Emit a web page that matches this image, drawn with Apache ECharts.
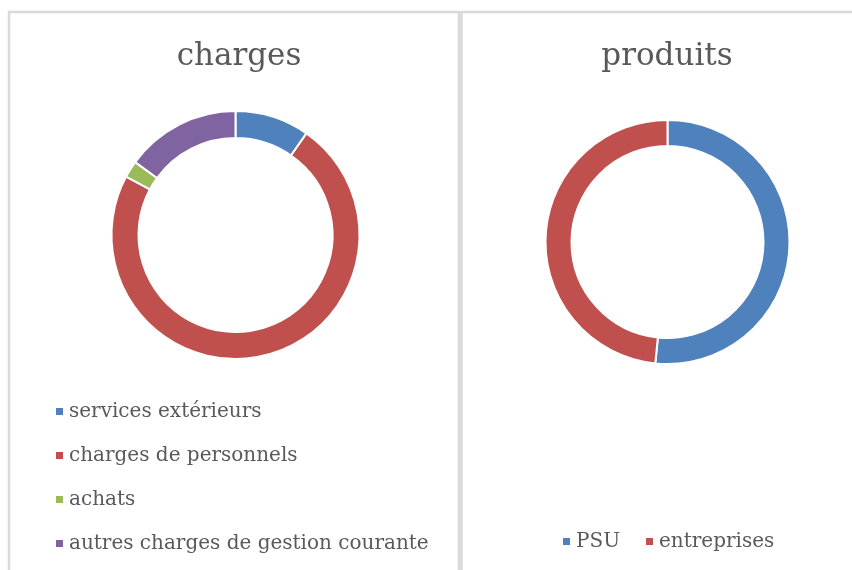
<!DOCTYPE html>
<html>
<head>
<meta charset="utf-8">
<script src="https://cdn.jsdelivr.net/npm/echarts@6/dist/echarts.min.js"></script>
<style>
html, body { margin: 0; padding: 0; background: #fff; }
#main { width: 852px; height: 570px; }
</style>
</head>
<body>
<div id="main"></div>
<script>
// charges (left donut)
var chargeNames = ['services extérieurs', 'charges de personnels', 'achats', 'autres charges de gestion courante'];
var chargeValues = [9.7, 73.1, 2.2, 15.0];
// produits (right donut)
var produitNames = ['PSU', 'entreprises'];
var produitValues = [51.6, 48.4];

var colors = ['#4F81BD', '#C0504D', '#9BBB59', '#8064A2'];
var font = 'DejaVu Serif';
var grey = '#595959';

var myChart = echarts.init(document.getElementById('main'));

function toData(names, values) {
    var out = [];
    for (var i = 0; i < names.length; i++) {
        out.push({ name: names[i], value: values[i] });
    }
    return out;
}

var option = {
    color: colors,
    animation: false,
    graphic: [
        { type: 'rect', shape: { x: 9, y: 12, width: 450, height: 620 },
          style: { fill: 'none', stroke: '#d9d9d9', lineWidth: 2.5 } },
        { type: 'rect', shape: { x: 461.5, y: 12, width: 450, height: 620 },
          style: { fill: 'none', stroke: '#d9d9d9', lineWidth: 2.5 } }
    ],
    title: [
        { text: 'charges', left: 234, top: 36, textAlign: 'center',
          textStyle: { fontFamily: font, fontSize: 31, fontWeight: 'normal', color: grey } },
        { text: 'produits', left: 662, top: 36, textAlign: 'center',
          textStyle: { fontFamily: font, fontSize: 31, fontWeight: 'normal', color: grey } }
    ],
    legend: [
        {
            data: chargeNames,
            orient: 'vertical',
            left: 54,
            top: 401,
            padding: 0,
            icon: 'rect',
            itemWidth: 9,
            itemHeight: 9,
            itemGap: 23,
            selectedMode: false,
            textStyle: { fontFamily: font, fontSize: 20, color: grey, lineHeight: 21 }
        },
        {
            data: produitNames,
            orient: 'horizontal',
            left: 561,
            top: 531,
            padding: 0,
            icon: 'rect',
            itemWidth: 9,
            itemHeight: 9,
            itemGap: 24,
            selectedMode: false,
            textStyle: { fontFamily: font, fontSize: 20, color: grey, lineHeight: 21 }
        }
    ],
    series: [
        {
            name: 'charges',
            type: 'pie',
            center: [235.5, 235],
            radius: [97, 124],
            startAngle: 90,
            clockwise: true,
            label: { show: false },
            labelLine: { show: false },
            emphasis: { disabled: true },
            itemStyle: { borderColor: '#fff', borderWidth: 2 },
            data: toData(chargeNames, chargeValues)
        },
        {
            name: 'produits',
            type: 'pie',
            center: [667.5, 242],
            radius: [96, 122],
            startAngle: 90,
            clockwise: true,
            label: { show: false },
            labelLine: { show: false },
            emphasis: { disabled: true },
            itemStyle: { borderColor: '#fff', borderWidth: 2 },
            data: toData(produitNames, produitValues)
        }
    ]
};

myChart.setOption(option, true);
window.onresize = function () {
    myChart.resize();
};
</script>
</body>
</html>
